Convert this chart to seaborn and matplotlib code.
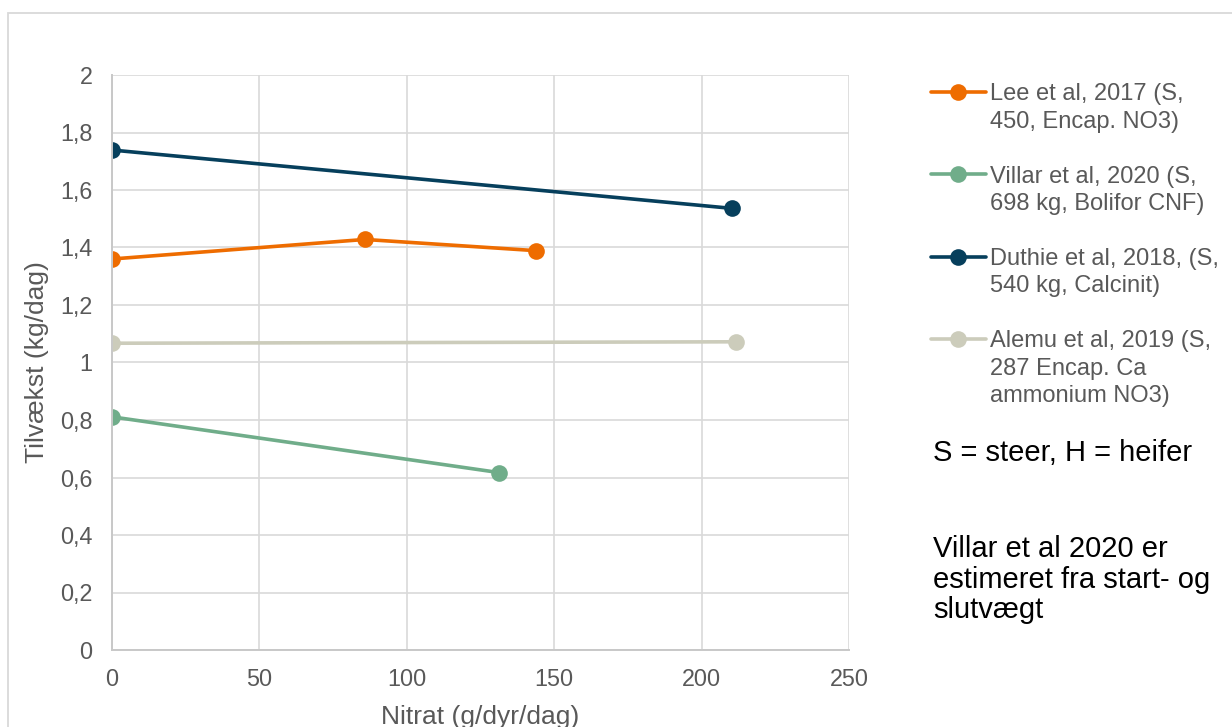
import matplotlib
matplotlib.use("Agg")
import matplotlib.pyplot as plt
from matplotlib.lines import Line2D
from matplotlib.patches import Rectangle
from matplotlib.ticker import FuncFormatter, MultipleLocator
import seaborn as sns
import pandas as pd

# Studies (legend labels) and their measured points
studies = [
    "Lee et al, 2017 (S,\n450, Encap. NO3)",
    "Villar et al, 2020 (S,\n698 kg, Bolifor CNF)",
    "Duthie et al, 2018, (S,\n540 kg, Calcinit)",
    "Alemu et al, 2019 (S,\n287 Encap. Ca\nammonium NO3)",
]
lee_x = [0, 85.8, 143.8]
lee_y = [1.36, 1.428, 1.389]
villar_x = [0, 131.4]
villar_y = [0.811, 0.617]
duthie_x = [0, 210.4]
duthie_y = [1.739, 1.536]
alemu_x = [0, 211.7]
alemu_y = [1.067, 1.072]
colors = ["#EE6C00", "#70AD8A", "#063F5C", "#CCCCBB"]

frames = []
for name, xs, ys in zip(studies,
                        [lee_x, villar_x, duthie_x, alemu_x],
                        [lee_y, villar_y, duthie_y, alemu_y]):
    frames.append(pd.DataFrame({"Nitrat": xs, "Tilvaekst": ys, "Studie": name}))
df = pd.concat(frames, ignore_index=True)

sns.set_theme(style="white")
plt.rcParams["font.family"] = ["Liberation Sans", "DejaVu Sans"]

fig = plt.figure(figsize=(12.32, 7.27), dpi=100)
ax = fig.add_axes([112 / 1232, 1 - 650 / 727, (849 - 112) / 1232, (650 - 75) / 727])

sns.lineplot(data=df, x="Nitrat", y="Tilvaekst", hue="Studie", hue_order=studies,
             palette=colors, marker="o", markersize=12, markeredgewidth=0,
             linewidth=2.6, sort=False, ax=ax, legend=True)

grid_c = "#D9D9D9"
tick_c = "#595959"
ax.set_xlim(0, 250)
ax.set_ylim(0, 2)
ax.xaxis.set_major_locator(MultipleLocator(50))
ax.yaxis.set_major_locator(MultipleLocator(0.2))
ax.yaxis.set_major_formatter(FuncFormatter(
    lambda v, p: ("%g" % round(v, 1)).replace(".", ",")))
ax.grid(True, color=grid_c, linewidth=1.2)
ax.set_axisbelow(True)
for s in ["top", "right"]:
    ax.spines[s].set_visible(False)
for s in ["left", "bottom"]:
    ax.spines[s].set_color("#C8C8C8")
    ax.spines[s].set_linewidth(1.4)
ax.tick_params(axis="both", length=0, labelsize=16.8, labelcolor=tick_c)
ax.tick_params(axis="x", pad=13)
ax.tick_params(axis="y", pad=14)
for lab in ax.get_xticklabels() + ax.get_yticklabels():
    lab.set_clip_on(False)

ax.set_xlabel("Nitrat (g/dyr/dag)", fontsize=19, color=tick_c, labelpad=10)
ax.set_ylabel("Tilvækst (kg/dag)", fontsize=19, color=tick_c, labelpad=8)

# Legend: the marker sits on the first line of each label; the wrapped
# lines follow as rows without a symbol, with a blank row between studies.
handles, labels = ax.get_legend_handles_labels()
ax.get_legend().remove()
blank = Line2D([], [], linestyle="none", marker=None)
rows_h, rows_l = [], []
for i, (h, lab) in enumerate(zip(handles, labels)):
    parts = lab.split("\n")
    rows_h.append(h)
    rows_l.append(parts[0])
    for extra in parts[1:]:
        rows_h.append(blank)
        rows_l.append(extra)
    if i < len(handles) - 1:
        rows_h.append(blank)
        rows_l.append(" ")
leg = fig.legend(rows_h, rows_l, loc="upper left",
                 bbox_to_anchor=(910 / 1232, 1 - 62 / 727),
                 frameon=False, fontsize=17, labelcolor=tick_c, handlelength=2.3,
                 handletextpad=0.2, labelspacing=0.23)

fig.text(933 / 1232, 1 - 453 / 727, "S = steer, H = heifer", fontsize=21,
         color="black", va="center", ha="left")
fig.text(933 / 1232, 1 - 535 / 727, "Villar et al 2020 er\nestimeret fra start- og\nslutvægt",
         fontsize=21, color="black", va="top", ha="left", linespacing=1.12)

fig.patches.append(Rectangle((8 / 1232, -0.1), 1.2, 1 - 13 / 727 + 0.1,
                             transform=fig.transFigure, fill=False,
                             edgecolor=grid_c, linewidth=1.3))

fig.savefig("out.png", dpi=100)
